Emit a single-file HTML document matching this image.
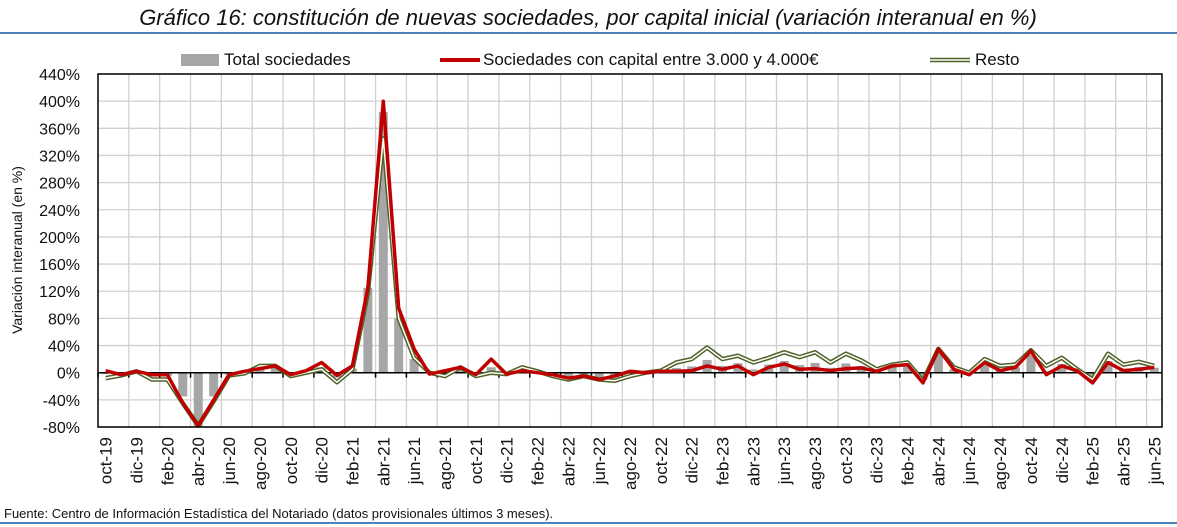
<!DOCTYPE html>
<html><head><meta charset="utf-8"><style>
html,body{margin:0;padding:0;background:#fff;}
svg{display:block;font-family:"Liberation Sans",sans-serif;}
</style></head><body>
<svg id="c" width="1177" height="527" xmlns="http://www.w3.org/2000/svg"></svg>
<script>
const L=98,R=1162,T=74,B=427,n=69,w=(R-L)/n;
const y=v=>372.7-v*(27.154/40);
const x=i=>L+w*(i+0.5);
const red=[3,-3,2,-3,-3,-45,-78,-40,-3,2,6,10,-3,3,15,-4,10,125,400,95,35,-2,3,8,-3,20,-2,3,0,-3,-8,-5,-10,-5,2,0,2,2,3,10,5,10,-3,8,13,5,6,3,6,7,2,10,12,-15,35,5,-3,15,3,8,32,-3,10,3,-15,15,3,5,8];
const rest=[-8,-4,2,-10,-10,-45,-78,-42,-4,-1,10,10,-5,0,5,-14,5,118,345,80,22,0,-5,8,-5,0,-2,8,2,-5,-10,-5,-10,-12,-5,0,3,15,20,37,20,25,15,22,30,23,30,15,28,18,5,12,15,-12,35,8,0,20,10,12,33,10,22,5,-10,28,12,16,10];
const tot=red.map((r,i)=>i==5?-35:i==6?-80:i==7?-35:i==17?125:i==18?384:i==19?80:i==20?20:(r+rest[i])/2*0.8);
const months=["oct","nov","dic","ene","feb","mar","abr","may","jun","jul","ago","sep"];
let s='';
s+='<text x="588" y="25" font-size="22" font-style="italic" text-anchor="middle" fill="#111">Gráfico 16: constitución de nuevas sociedades, por capital inicial (variación interanual en %)</text>';
s+='<line x1="0" y1="33" x2="1177" y2="33" stroke="#4f81bd" stroke-width="2"/>';
s+='<line x1="0" y1="523" x2="1177" y2="523" stroke="#4f81bd" stroke-width="2"/>';
for(let k=0;k<=13;k++){const yy=T+k*27.154;s+=`<line x1="${L}" y1="${yy}" x2="${R}" y2="${yy}" stroke="#d0d0d0" stroke-width="1.3"/>`;
 s+=`<text x="80" y="${yy+6}" font-size="16" text-anchor="end" fill="#111">${440-40*k}%</text>`;}
for(let i=2;i<n;i+=2){const xx=L+i*w;s+=`<line x1="${xx}" y1="${T}" x2="${xx}" y2="${B}" stroke="#d0d0d0" stroke-width="1.3"/>`;}
tot.forEach((v,i)=>{const a=y(Math.max(v,0)),b=y(Math.min(v,0));s+=`<rect x="${x(i)-4.5}" y="${a}" width="9" height="${b-a}" fill="#a6a6a6"/>`;});
s+=`<line x1="${L}" y1="${y(0)}" x2="${R}" y2="${y(0)}" stroke="#000" stroke-width="1.5"/>`;
for(let i=0;i<=n;i+=2){const xx=L+i*w;s+=`<line x1="${xx}" y1="${y(0)}" x2="${xx}" y2="${y(0)+5}" stroke="#000" stroke-width="1.5"/>`;}
const pts=a=>a.map((v,i)=>x(i).toFixed(1)+','+y(v).toFixed(1)).join(' ');
s+=`<polyline points="${pts(rest)}" fill="none" stroke="#4f6228" stroke-width="4.5" stroke-linejoin="round"/>`;
s+=`<polyline points="${pts(rest)}" fill="none" stroke="#fff" stroke-width="1.5" stroke-linejoin="round"/>`;
s+=`<polyline points="${pts(red)}" fill="none" stroke="#c00000" stroke-width="3.5" stroke-linejoin="round"/>`;
s+=`<rect x="${L}" y="${T}" width="${R-L}" height="${B-T}" fill="none" stroke="#000" stroke-width="1.5"/>`;
for(let i=0;i<n;i+=2){const m=i%12,yr=19+Math.floor((9+i)/12);const xx=x(i)+6;
 s+=`<text transform="translate(${xx},437) rotate(-90)" font-size="17" text-anchor="end" fill="#111">${months[m]}-${yr}</text>`;}
s+='<text transform="translate(22,250) rotate(-90)" font-size="14" text-anchor="middle" fill="#111">Variación interanual (en %)</text>';
s+='<rect x="181" y="54" width="38" height="12" fill="#a6a6a6"/><text x="224" y="65" font-size="17" fill="#111">Total sociedades</text>';
s+='<line x1="440" y1="60" x2="480" y2="60" stroke="#c00000" stroke-width="4"/><text x="483" y="65" font-size="17" fill="#111">Sociedades con capital entre 3.000 y 4.000€</text>';
s+='<line x1="930" y1="60" x2="970" y2="60" stroke="#4f6228" stroke-width="4.5"/><line x1="930" y1="60" x2="970" y2="60" stroke="#fff" stroke-width="1.5"/><text x="975" y="65" font-size="17" fill="#111">Resto</text>';
s+='<text x="4" y="518" font-size="13" fill="#111">Fuente: Centro de Información Estadística del Notariado (datos provisionales últimos 3 meses).</text>';
document.getElementById('c').innerHTML=s;
</script>
</body></html>
